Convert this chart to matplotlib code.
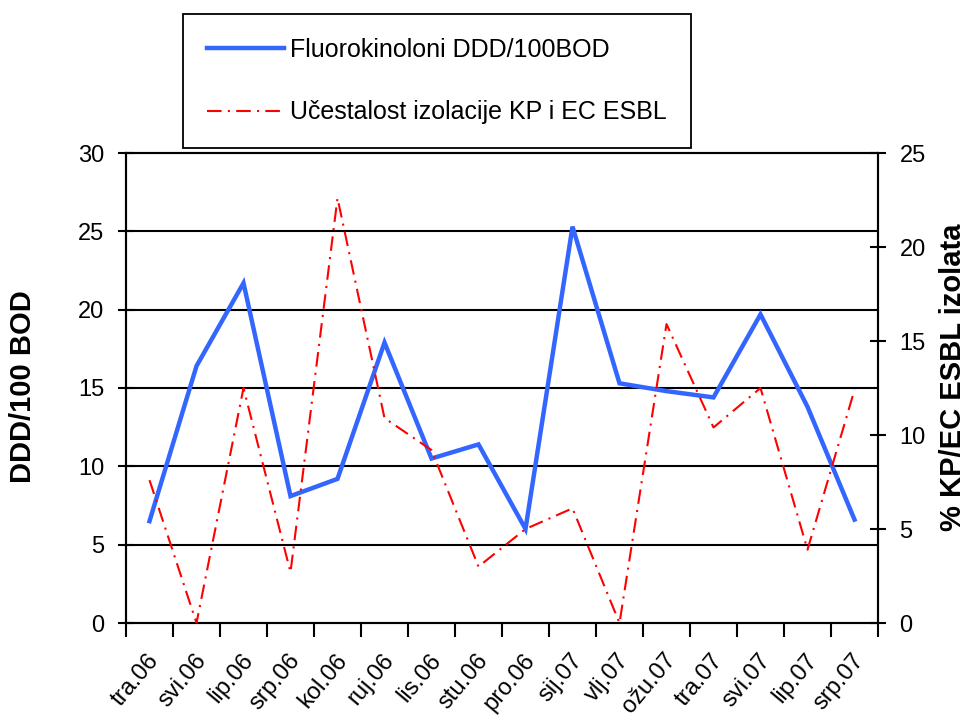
import numpy as np
import matplotlib
matplotlib.use('Agg')
import matplotlib.pyplot as plt
from matplotlib.transforms import ScaledTranslation

plt.rcParams['font.family'] = ['Liberation Sans', 'DejaVu Sans']

# mjeseci (kategorije na x osi)
months = ['tra.06', 'svi.06', 'lip.06', 'srp.06', 'kol.06', 'ruj.06', 'lis.06', 'stu.06',
          'pro.06', 'sij.07', 'vlj.07', 'ožu.07', 'tra.07', 'svi.07', 'lip.07', 'srp.07']

# Fluorokinoloni DDD/100BOD (lijeva os)
ddd = [6.5, 16.4, 21.7, 8.1, 9.2, 17.9, 10.5, 11.4, 6.0, 25.3, 15.3, 14.8, 14.4, 19.7, 13.8, 6.6]

# % KP/EC ESBL izolata (desna os)
esbl = [7.6, 0.0, 12.5, 2.7, 22.6, 10.9, 9.2, 3.0, 5.0, 6.1, 0.0, 15.9, 10.4, 12.5, 3.9, 12.4]

left_ticks = [0, 5, 10, 15, 20, 25, 30]
right_ticks = [0, 5, 10, 15, 20, 25]

fig = plt.figure(figsize=(9.7, 7.18), dpi=100)
ax = fig.add_axes([126 / 970, 1 - 623 / 718, (878 - 126) / 970, (623 - 153) / 718])
ax2 = ax.twinx()

x = np.arange(len(months))
l1, = ax.plot(x, ddd, color='#3366FF', lw=3.2, solid_joinstyle='miter',
              label='Fluorokinoloni DDD/100BOD', zorder=3)
l2, = ax2.plot(x, esbl, color='#FF0000', lw=1.5, dashes=(7, 3, 1, 3),
               label='Učestalost izolacije KP i EC ESBL', zorder=3)

ax.set_xlim(-0.5, len(months) - 0.5)
ax.set_ylim(0, 30)
ax2.set_ylim(0, 25)
ax.set_yticks(left_ticks)
ax2.set_yticks(right_ticks)

# horizontal grid from the left axis
for v in left_ticks[1:-1]:
    ax.axhline(v, color='black', lw=1.5, zorder=1)

for a in (ax, ax2):
    for s in a.spines.values():
        s.set_linewidth(1.5)
        s.set_color('black')

ax.set_xticks(x)
ax.set_xticklabels(months, rotation=50, ha='right', va='center', rotation_mode='anchor')
ax.set_xticks(np.arange(-0.5, len(months), 1), minor=True)
ax.tick_params(axis='x', which='major', length=0, pad=24, labelsize=17)
ax.tick_params(axis='x', which='minor', length=10, width=1.5, direction='out')
for lab in ax.get_xticklabels():
    lab.set_transform(lab.get_transform() + ScaledTranslation(4 / 72, 0, fig.dpi_scale_trans))

ax.tick_params(axis='y', length=11, width=1.5, direction='inout', pad=10, labelsize=17)
ax2.tick_params(axis='y', length=11, width=1.5, direction='inout', pad=10, labelsize=17)

fig.text(22.7 / 970, 1 - 387 / 718, 'DDD/100 BOD', rotation=90, ha='center', va='center',
         fontsize=21, fontweight='bold')
fig.text(953 / 970, 1 - 377 / 718, '% KP/EC ESBL izolata', rotation=90, ha='center', va='center',
         fontsize=21, fontweight='bold')

leg = fig.legend([l1, l2], [l1.get_label(), l2.get_label()], loc='upper left',
                 bbox_to_anchor=(183 / 970, 1 - 14 / 718), fontsize=18, frameon=True,
                 fancybox=False, edgecolor='black', framealpha=1, handlelength=3.1,
                 handletextpad=0.25, labelspacing=1.55, borderpad=0.95, borderaxespad=0)
leg.get_frame().set_linewidth(1.3)

fig.savefig('out.png', dpi=100)
